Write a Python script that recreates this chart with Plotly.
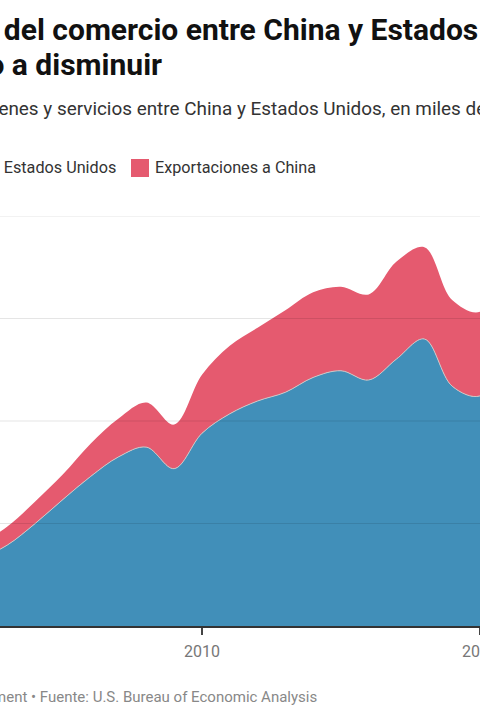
import plotly.graph_objects as go

# ---- data (miles de millones de dólares) ----
years = list(range(1999, 2024))
imports_from_china = [87, 106, 109, 131, 158, 200, 247, 292, 330, 349,
                      307, 376, 414, 439, 456, 485, 498, 480, 521, 560,
                      468, 449, 526, 566, 448]
exports_to_china = [20, 24, 26, 30, 36, 43, 49, 64, 75, 87,
                    86, 114, 133, 143, 160, 166, 164, 167, 190, 179,
                    168, 164, 190, 197, 185]
series_names = ["Exportaciones de China a Estados Unidos", "Exportaciones a China"]
series_colors = ["#418fb9", "#e55a6f"]
grid_values = [200, 400, 600, 800]
tick_years = [2000, 2010, 2020]

title_line1 = "El déficit del comercio entre China y Estados Unidos ha"
title_line2 = "empezado a disminuir"
subtitle = "Comercio de bienes y servicios entre China y Estados Unidos, en miles de millones de dólares"
footer = "Gráfico: Commerce Department • Fuente: U.S. Bureau of Economic Analysis"

W, H = 480, 720
PT, PB = 216, 626


def px(x):
    return x / W


def py(y):
    return (PB - y) / (PB - PT)


fig = go.Figure()
fig.add_trace(go.Scatter(
    x=years, y=imports_from_china, name=series_names[0],
    stackgroup="one", mode="lines",
    line=dict(color="#c9c9c9", width=1, shape="spline", smoothing=1),
    fillcolor=series_colors[0], hoverinfo="skip"))
fig.add_trace(go.Scatter(
    x=years, y=exports_to_china, name=series_names[1],
    stackgroup="one", mode="lines",
    line=dict(color=series_colors[1], width=0, shape="spline", smoothing=1),
    fillcolor=series_colors[1], hoverinfo="skip"))

shapes = []
for g in grid_values:
    shapes.append(dict(type="line", xref="paper", x0=0, x1=1, yref="y", y0=g, y1=g,
                       line=dict(color="rgba(0,0,0,0.10)", width=1), layer="above"))

# legend squares
shapes.append(dict(type="rect", xref="paper", yref="paper",
                   x0=px(-230), x1=px(-212), y0=py(177), y1=py(159),
                   fillcolor=series_colors[0], line=dict(width=0)))
shapes.append(dict(type="rect", xref="paper", yref="paper",
                   x0=px(131), x1=px(149), y0=py(177), y1=py(159),
                   fillcolor=series_colors[1], line=dict(width=0)))

font = "Roboto, sans-serif"
ann = []
ann.append(dict(text="<b>" + title_line1 + "</b>", x=px(-122), y=py(29.5), xanchor="left",
                yanchor="middle", font=dict(family=font, size=30, color="#111")))
ann.append(dict(text="<b>" + title_line2 + "</b>", x=px(163), y=py(64.5), xanchor="right",
                yanchor="middle", font=dict(family=font, size=30, color="#111")))
ann.append(dict(text=subtitle, x=px(-129), y=py(108), xanchor="left", yanchor="middle",
                font=dict(family=font, size=18.9, color="#333")))
ann.append(dict(text=series_names[0], x=px(117), y=py(168), xanchor="right", yanchor="middle",
                font=dict(family=font, size=16.2, color="#333")))
ann.append(dict(text=series_names[1], x=px(153.5), y=py(168), xanchor="left", yanchor="middle",
                font=dict(family=font, size=16.2, color="#333")))
ann.append(dict(text=footer, x=px(318), y=py(697), xanchor="right", yanchor="middle",
                font=dict(family=font, size=15, color="#888")))
for a in ann:
    a.update(xref="paper", yref="paper", showarrow=False, borderpad=0)

fig.update_layout(
    width=W, height=H,
    margin=dict(l=0, r=0, t=PT, b=H - PB, pad=0, autoexpand=False),
    paper_bgcolor="white", plot_bgcolor="white",
    showlegend=False,
    shapes=shapes, annotations=ann,
    font=dict(family=font),
    xaxis=dict(range=[2002.734, 2020.002], tickvals=tick_years,
               ticktext=[str(t) for t in tick_years],
               ticks="outside", ticklen=7, tickwidth=1.5, tickcolor="#444",
               showline=True, linecolor="#333", linewidth=1.5,
               showgrid=False, zeroline=False, layer="above traces",
               tickfont=dict(family=font, size=16, color="#777"),
               ticklabelstandoff=3,
               ticklabeloverflow="allow", automargin=False, fixedrange=True),
    yaxis=dict(range=[0, 800], showgrid=False, zeroline=False,
               showticklabels=False, automargin=False, fixedrange=True),
)

fig.write_html("out.html", config={"displayModeBar": False},
               post_script="document.body.style.margin='0';document.body.style.overflow='hidden';")
